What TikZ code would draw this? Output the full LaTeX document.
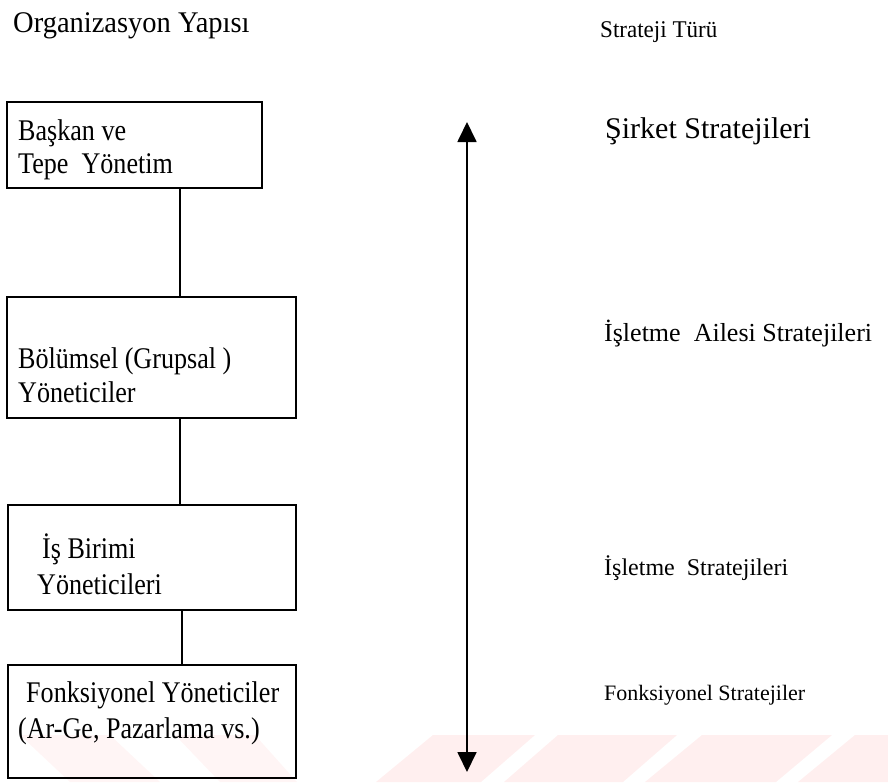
\documentclass[tikz,border=0pt]{standalone}
\usepackage{fontspec}
\setmainfont{Liberation Serif}
\usetikzlibrary{arrows.meta}

% horizontally condensed text
\newcommand{\narrow}[2]{\scalebox{#1}[1]{#2}}

\begin{document}
\begin{tikzpicture}[x=1pt,y=-1pt,
  orgbox/.style={draw=black, line width=1.6pt, inner sep=0pt, minimum width=#1},
  lbl/.style={anchor=base west, inner sep=0pt, text=black},
  boxtxt/.style={lbl, font=\fontsize{30}{30}\selectfont},
  link/.style={line width=1.6pt},
  wm/.style={fill=red!60!pink!9, draw=none}
]
\useasboundingbox (0,0) rectangle (888,782);

% faint pink watermark bands along the bottom edge
\fill[wm] (376,782) -- (433,735) -- (535,735) -- (481,782) -- cycle;
\fill[wm] (504,782) -- (558,735) -- (677,735) -- (623,782) -- cycle;
\fill[wm] (645,782) -- (702,735) -- (832,735) -- (776,782) -- cycle;
\fill[wm] (798,782) -- (855,735) -- (888,735) -- (888,782) -- cycle;
\fill[wm, opacity=0.6] (20,735) -- (110,735) -- (160,782) -- (70,782) -- cycle;
\fill[wm, opacity=0.6] (175,735) -- (255,735) -- (297,782) -- (220,782) -- cycle;

% column headings
\node[lbl, font=\fontsize{30}{30}\selectfont] (h1) at (13,32) {\narrow{0.95}{Organizasyon Yapısı}};
\node[lbl, font=\fontsize{24}{24}\selectfont] (h2) at (600,37) {\narrow{0.96}{Strateji Türü}};

% management levels
\node[orgbox=255pt, minimum height=86pt]  (b1) at (134.5,145)   {};
\node[orgbox=289pt, minimum height=121pt] (b2) at (151.5,357.5) {};
\node[orgbox=288pt, minimum height=105pt] (b3) at (152,557.5)   {};
\node[orgbox=288pt, minimum height=113pt] (b4) at (152,721.5)   {};

\node[boxtxt] (t1a) at (18,140) {\narrow{0.87}{Başkan ve}};
\node[boxtxt] (t1b) at (18,173) {\narrow{0.87}{Tepe\ \ Yönetim}};
\node[boxtxt] (t2a) at (18,368) {\narrow{0.87}{Bölümsel (Grupsal )}};
\node[boxtxt] (t2b) at (18,402) {\narrow{0.87}{Yöneticiler}};
\node[boxtxt] (t3a) at (42,558) {\narrow{0.87}{İş Birimi}};
\node[boxtxt] (t3b) at (37,594) {\narrow{0.87}{Yöneticileri}};
\node[boxtxt] (t4a) at (26,702) {\narrow{0.87}{Fonksiyonel Yöneticiler}};
\node[boxtxt] (t4b) at (18,738) {\narrow{0.87}{(Ar-Ge, Pazarlama vs.)}};

% vertical links between levels
\coordinate (spineA) at (180,0);
\coordinate (spineB) at (182,0);
\draw[link] (b1.south -| spineA) -- (b2.north -| spineA);
\draw[link] (b2.south -| spineA) -- (b3.north -| spineA);
\draw[link] (b3.south -| spineB) -- (b4.north -| spineB);

% double-headed scale arrow
\coordinate (atop) at (467,122);
\coordinate (abot) at (467,772);
\draw[line width=1.8pt, {Triangle[width=19pt,length=20pt]}-{Triangle[width=19pt,length=20pt]}] (atop) -- (abot);

% strategy types
\node[lbl, font=\fontsize{30}{30}\selectfont] (s1) at (605,138) {Şirket Stratejileri};
\node[lbl, font=\fontsize{26}{26}\selectfont] (s2) at (604,341) {İşletme\ \ Ailesi Stratejileri};
\node[lbl, font=\fontsize{24}{24}\selectfont] (s3) at (604,575) {İşletme\ \ Stratejileri};
\node[lbl, font=\fontsize{22}{22}\selectfont] (s4) at (604,700) {Fonksiyonel Stratejiler};
\end{tikzpicture}
\end{document}
